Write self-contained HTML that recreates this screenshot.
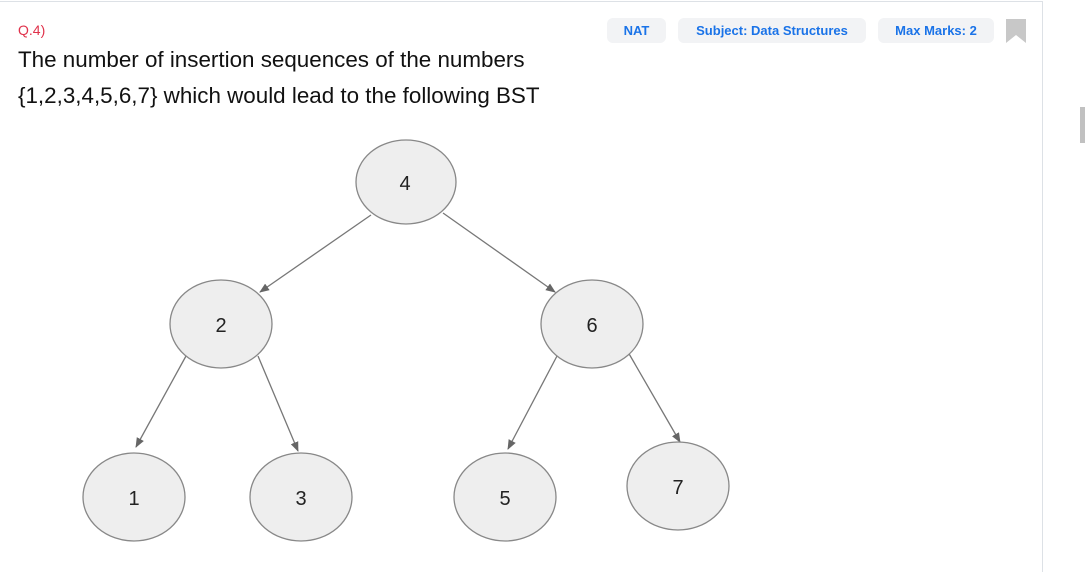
<!DOCTYPE html>
<html><head><style>
body{margin:0;width:1085px;height:560px;background:#fff;overflow:hidden;position:relative;font-family:"Liberation Sans",sans-serif}
.card{position:absolute;left:0;top:1px;width:1042px;height:570px;border-top:1px solid #dde1e6;border-right:1px solid #dde1e6}
.q{position:absolute;left:18px;top:22px;font-size:14px;color:#e0324b}
.t{position:absolute;left:18px;top:42px;font-size:22.4px;line-height:36px;color:#111}
.pill{position:absolute;top:18px;height:25px;line-height:25px;background:#f2f3f5;border-radius:6px;color:#1a73e8;font-weight:bold;font-size:13px;text-align:center}
.sb{position:absolute;left:1080px;top:107px;width:5px;height:36px;background:#c1c1c1}
</style></head><body>
<div class="card"></div>
<div class="q">Q.4)</div>
<div class="t">The number of insertion sequences of the numbers<br>{1,2,3,4,5,6,7} which would lead to the following BST</div>
<div class="pill" style="left:607px;width:59px">NAT</div>
<div class="pill" style="left:678px;width:188px">Subject: Data Structures</div>
<div class="pill" style="left:878px;width:116px">Max Marks: 2</div>
<svg style="position:absolute;left:1006px;top:19px" width="20" height="24"><path d="M0 0H20V24L10 16L0 24Z" fill="#c8c8c8"/></svg>
<div class="sb"></div>
<svg style="position:absolute;left:0;top:0" width="1085" height="560">
<defs><marker id="a" markerWidth="10" markerHeight="10" refX="9" refY="5" orient="auto" markerUnits="userSpaceOnUse"><path d="M0 1L10 5L0 9Z" fill="#666"/></marker></defs>
<g stroke="#777" stroke-width="1.3" marker-end="url(#a)">
<line x1="371" y1="215" x2="260" y2="292"/>
<line x1="443" y1="213" x2="555" y2="292"/>
<line x1="186" y1="356" x2="136" y2="447"/>
<line x1="258" y1="356" x2="298" y2="451"/>
<line x1="557" y1="356" x2="508" y2="449"/>
<line x1="628" y1="352" x2="680" y2="442"/>
</g>
<g fill="#eeeeee" stroke="#888" stroke-width="1.3">
<ellipse cx="406" cy="182" rx="50" ry="42"/>
<ellipse cx="221" cy="324" rx="51" ry="44"/>
<ellipse cx="592" cy="324" rx="51" ry="44"/>
<ellipse cx="134" cy="497" rx="51" ry="44"/>
<ellipse cx="301" cy="497" rx="51" ry="44"/>
<ellipse cx="505" cy="497" rx="51" ry="44"/>
<ellipse cx="678" cy="486" rx="51" ry="44"/>
</g>
<g font-family="Liberation Sans,sans-serif" font-size="20" fill="#222" text-anchor="middle">
<text x="405" y="190">4</text><text x="221" y="332">2</text><text x="592" y="332">6</text>
<text x="134" y="505">1</text><text x="301" y="505">3</text><text x="505" y="505">5</text><text x="678" y="494">7</text>
</g>
</svg>
</body></html>
